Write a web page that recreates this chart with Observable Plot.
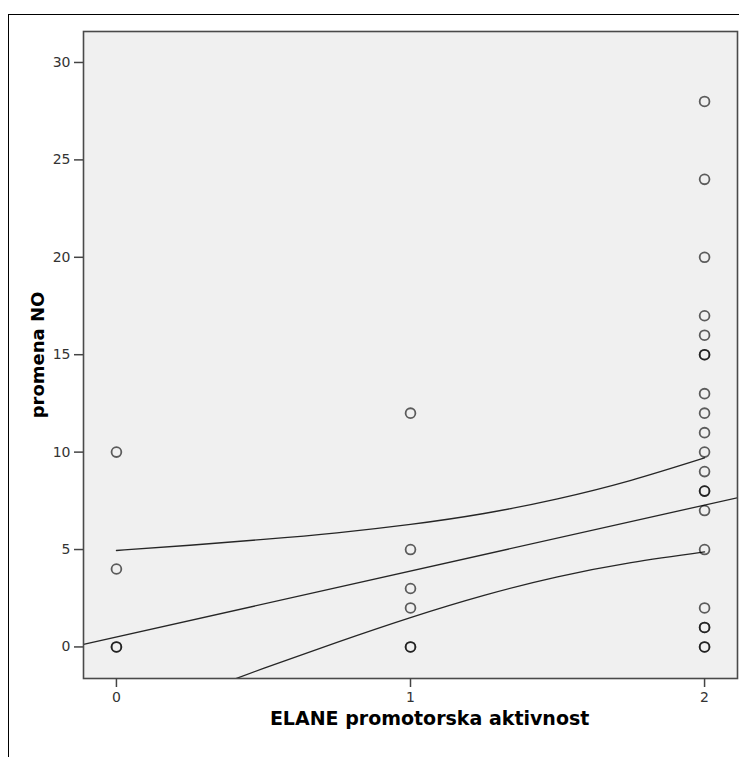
<!DOCTYPE html>
<html>
<head>
<meta charset="utf-8">
<script src="https://cdn.jsdelivr.net/npm/d3@7"></script>
<script src="https://cdn.jsdelivr.net/npm/@observablehq/plot@0.6"></script>
<style>
  html, body { margin: 0; padding: 0; background: #fff; }
  #chart {
    position: absolute; left: 8px; top: 14px;
    border-top: 1px solid #000; border-left: 1px solid #000;
  }
</style>
</head>
<body>
<div id="chart"></div>
<script>
// Observed "promena NO" values per ELANE promoter activity group (repeats = overlapping cases)
const group0 = [10, 4, 0, 0];
const group1 = [12, 5, 3, 2, 0, 0];
const group2 = [28, 24, 20, 17, 16, 15, 15, 13, 12, 11, 10, 9, 8, 8, 7, 5, 2, 1, 1, 0, 0];

// Linear fit line across the frame
const fitX = [-0.112, 2.112];
const fitY = [0.13, 7.66];

// 95% confidence band of the mean, read along the activity range
const bandX = [0, 0.25, 0.5, 0.75, 1, 1.25, 1.5, 1.75, 2];
const bandUpper = [4.95, 5.22, 5.52, 5.86, 6.29, 6.85, 7.60, 8.55, 9.70];
const bandLower = [-3.93, -2.50, -1.10, 0.24, 1.51, 2.65, 3.60, 4.33, 4.88];

const xTicks = [0, 1, 2];
const yTicks = [0, 5, 10, 15, 20, 25, 30];

const xTitle = "ELANE promotorska aktivnost";
const yTitle = "promena NO";

const points = [
  ...group0.map(v => ({x: 0, y: v})),
  ...group1.map(v => ({x: 1, y: v})),
  ...group2.map(v => ({x: 2, y: v}))
];
const fit = fitX.map((x, i) => ({x, y: fitY[i]}));
const upper = bandX.map((x, i) => ({x, y: bandUpper[i]}));
const lower = bandX.map((x, i) => ({x, y: bandLower[i]}));

const lineColor = "#262626";

const chart = Plot.plot({
  width: 730,
  height: 742,
  marginLeft: 74,
  marginTop: 16,
  marginRight: 2,
  marginBottom: 79,
  style: {fontFamily: "DejaVu Sans", fontSize: "14px", background: "transparent"},
  x: {domain: [-0.112, 2.112]},
  y: {domain: [-1.62, 31.59]},
  marks: [
    Plot.frame({fill: "#f0f0f0", stroke: null}),
    Plot.line(fit, {x: "x", y: "y", stroke: lineColor, strokeWidth: 1.3, clip: true}),
    Plot.line(upper, {x: "x", y: "y", curve: "natural", stroke: lineColor, strokeWidth: 1.3, clip: true}),
    Plot.line(lower, {x: "x", y: "y", curve: "natural", stroke: lineColor, strokeWidth: 1.3, clip: true}),
    Plot.dot(points, {x: "x", y: "y", r: 4.9, stroke: "#000", strokeOpacity: 0.62, strokeWidth: 1.8, fill: "none"}),
    Plot.frame({stroke: "#4a4a4a", strokeWidth: 1.6}),
    Plot.axisX({ticks: xTicks, tickFormat: d3.format("d"), tickSize: 9, tickPadding: 5, fontSize: 14, stroke: "#444", strokeWidth: 1.5, fill: "#333", label: null}),
    Plot.axisY({ticks: yTicks, tickFormat: d3.format("d"), tickSize: 9, tickPadding: 4, fontSize: 14, stroke: "#444", strokeWidth: 1.5, fill: "#333", label: null}),
    Plot.text([xTitle], {
      x: 1.065, frameAnchor: "bottom", dy: 46, text: d => d,
      fontWeight: "bold", fontSize: 19, fill: "#000"
    }),
    Plot.text([yTitle], {
      frameAnchor: "left", dx: -45, rotate: -90, textAnchor: "middle", text: d => d,
      fontWeight: "bold", fontSize: 18, fill: "#000"
    })
  ]
});

document.getElementById("chart").appendChild(chart);
</script>
</body>
</html>
